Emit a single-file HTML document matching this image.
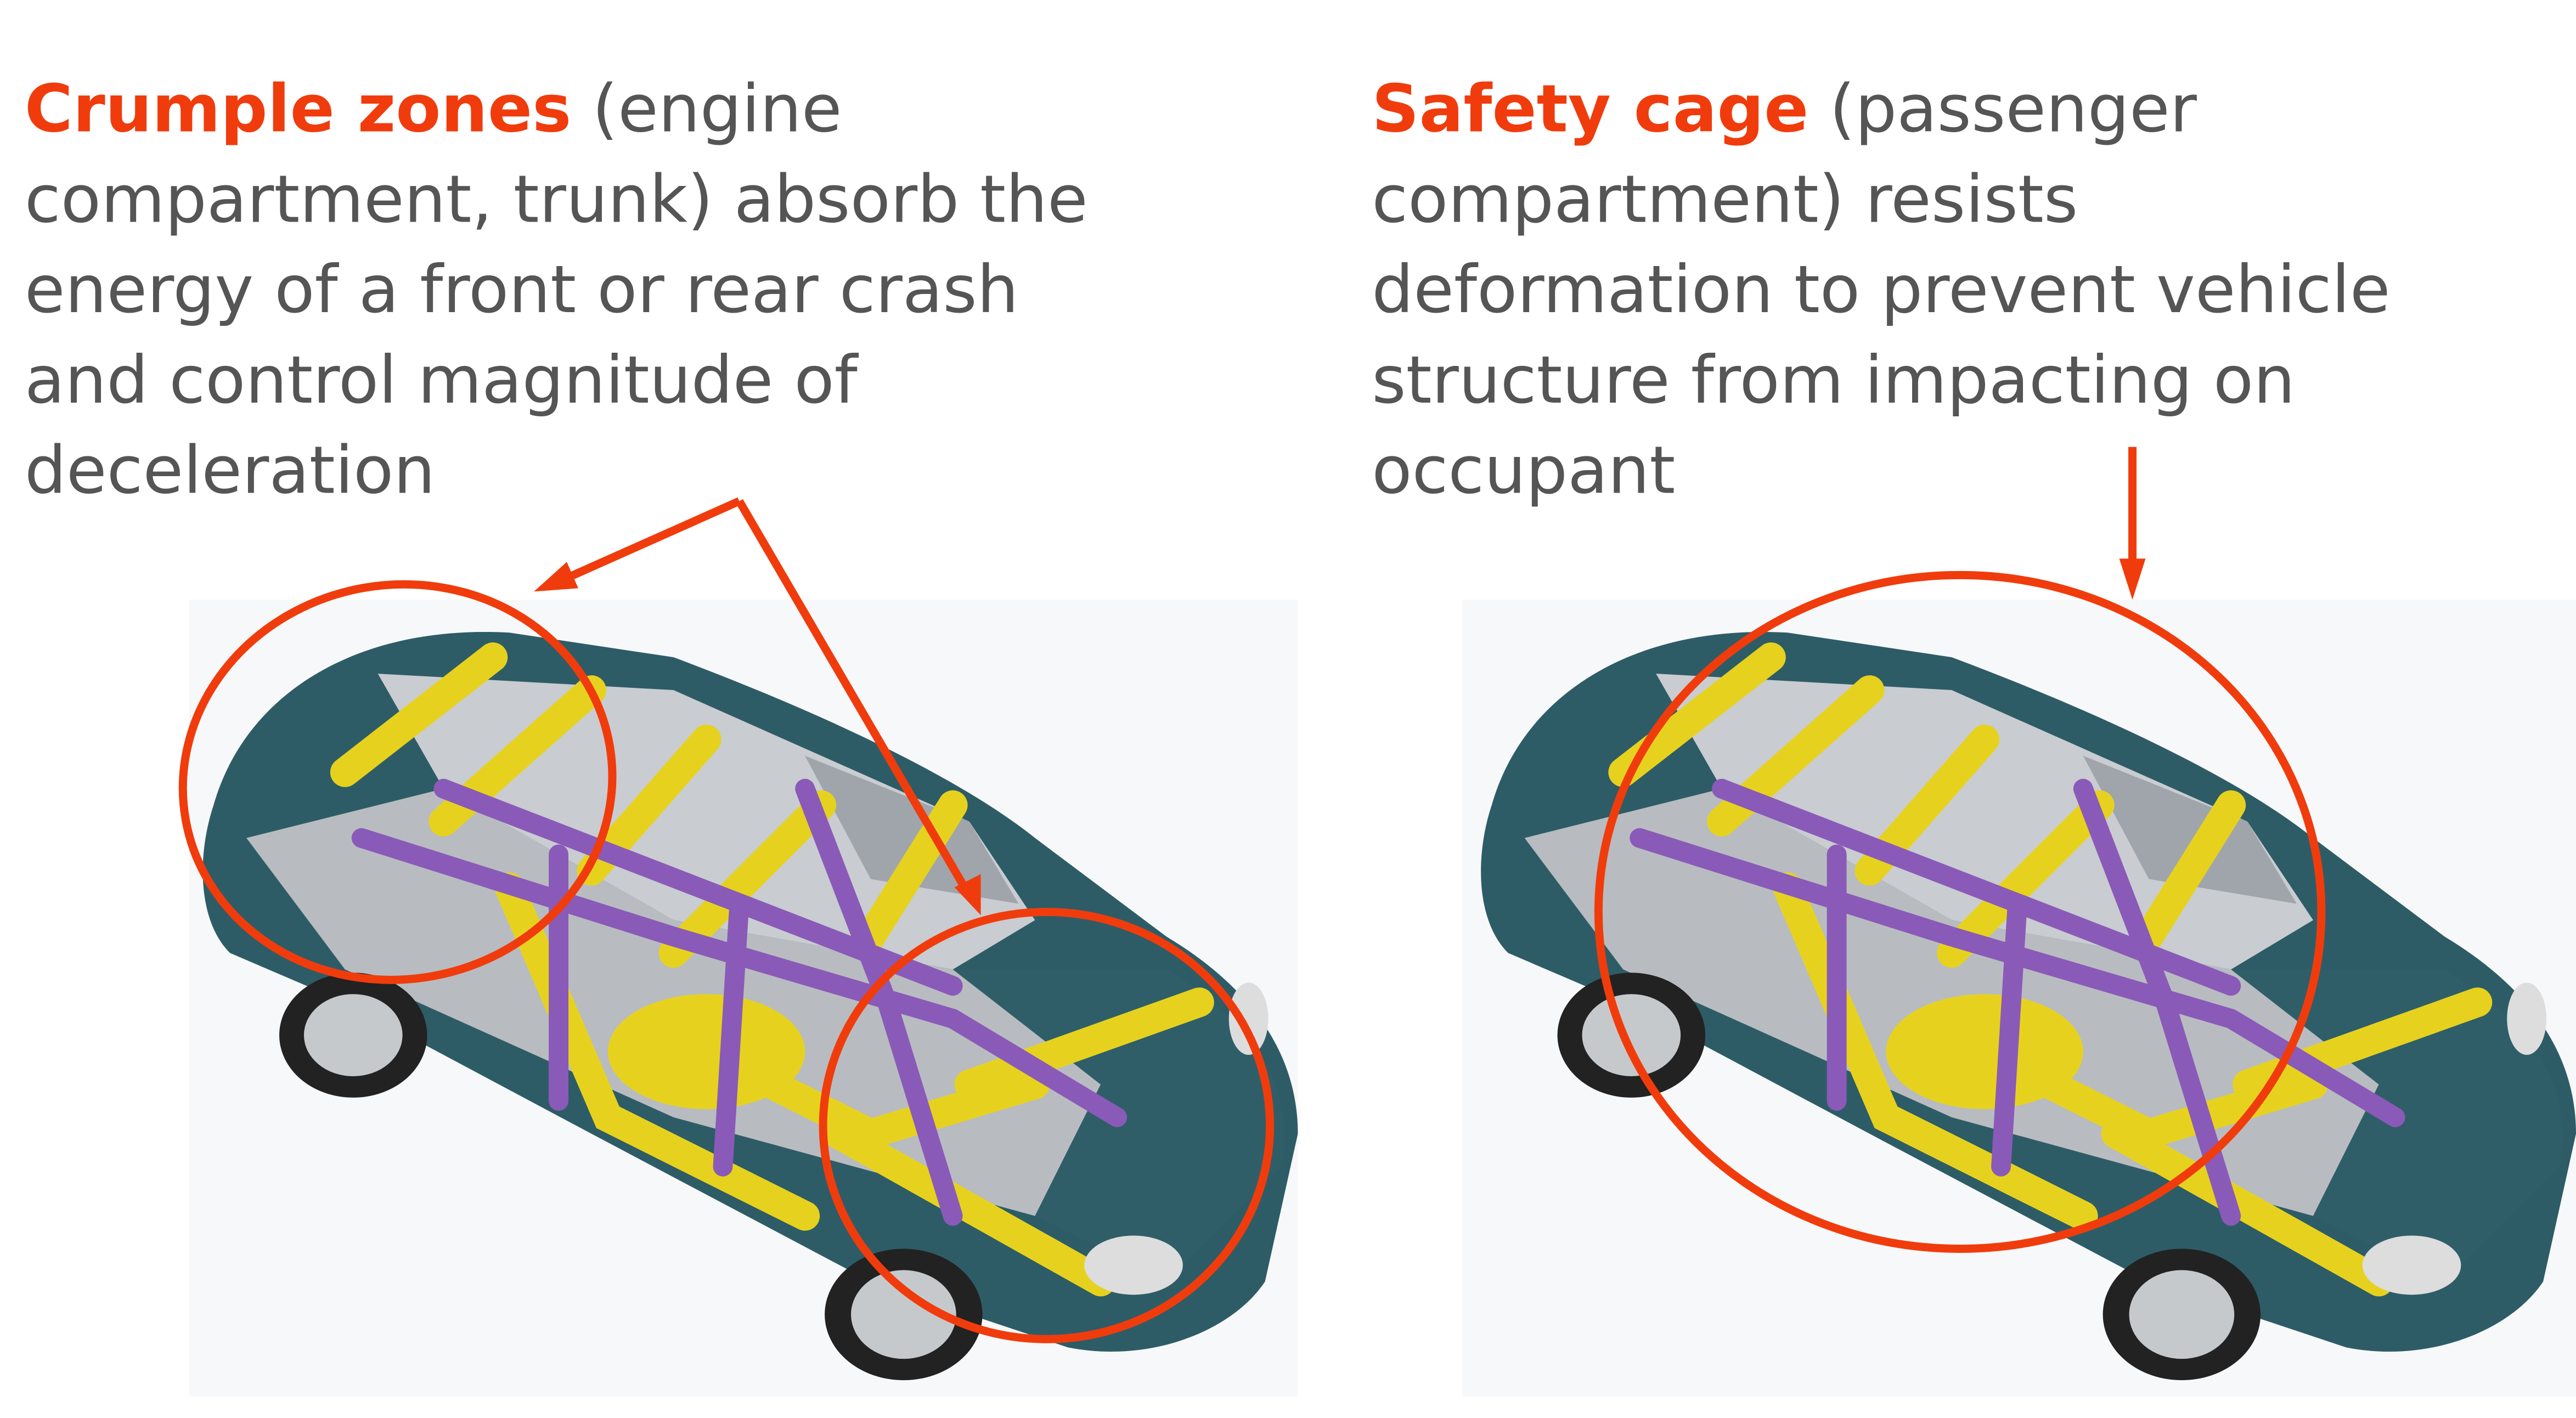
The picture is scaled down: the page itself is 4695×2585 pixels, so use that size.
<!DOCTYPE html>
<html><head><meta charset="utf-8"><style>
html,body{margin:0;padding:0;background:#fff;width:4695px;height:2585px;overflow:hidden}
svg{display:block;overflow:hidden}
text{font-family:"DejaVu Sans","Liberation Sans",sans-serif;font-size:40px;fill:#555}
.o{fill:#f03c0c;font-weight:bold}
</style></head><body>
<svg width="4695" height="2585" viewBox="0 0 1568 863" preserveAspectRatio="none" xmlns="http://www.w3.org/2000/svg">
<defs>
<g id="car">
  <path d="M20,130 C40,60 110,20 200,25 L300,40 C380,70 470,110 520,150 L600,210 C650,240 680,280 680,330 L660,420 C640,450 590,470 540,460 L420,420 L250,330 L100,250 L30,220 C10,200 10,160 20,130Z" fill="#2e5c66"/>
  <path d="M120,50 L300,60 L480,140 L520,200 L470,230 L300,200 L160,120Z" fill="#c9ccd0"/>
  <path d="M380,100 L480,140 L510,190 L420,175Z" fill="#9fa5ab"/>
  <path d="M40,150 L160,120 L300,200 L470,230 L560,300 L520,380 L300,320 L100,230Z" fill="#b8bcc0"/>
  <path d="M470,230 L600,230 C650,260 680,300 670,350 L600,420 L520,380 L560,300Z" fill="#2f5e69"/>
  <g stroke="#e6d21e" stroke-width="18" fill="none" stroke-linecap="round">
    <path d="M100,110 L190,40"/><path d="M160,140 L250,60"/><path d="M250,170 L320,90"/>
    <path d="M300,220 L390,130"/><path d="M420,210 L470,130"/>
    <path d="M200,180 L260,320 L380,380"/><path d="M300,270 L420,330 L520,300"/>
    <path d="M400,330 L560,420"/><path d="M480,300 L620,250"/>
  </g>
  <ellipse cx="320" cy="280" rx="60" ry="35" fill="#e6d21e"/>
  <g stroke="#8a5ab8" stroke-width="12" fill="none" stroke-linecap="round">
    <path d="M110,150 L300,210 L470,260 L570,320"/>
    <path d="M230,160 L230,310"/><path d="M340,190 L330,350"/>
    <path d="M160,120 L470,240"/><path d="M380,120 L430,250 L470,380"/>
  </g>
  <ellipse cx="105" cy="270" rx="45" ry="38" fill="#222"/><ellipse cx="105" cy="270" rx="30" ry="25" fill="#c6c9cc"/>
  <ellipse cx="440" cy="440" rx="48" ry="40" fill="#222"/><ellipse cx="440" cy="440" rx="32" ry="27" fill="#c6c9cc"/>
  <ellipse cx="650" cy="260" rx="12" ry="22" fill="#ddd"/>
  <ellipse cx="580" cy="410" rx="30" ry="18" fill="#ddd"/>
</g>
</defs>
<rect width="1568" height="863" fill="#fff"/>
<rect x="115" y="365" width="675" height="485" fill="#f7f8fa"/>
<rect x="890" y="365" width="678" height="485" fill="#f7f8fa"/>
<use href="#car" x="110" y="360"/>
<use href="#car" x="888" y="360"/>

<text x="15" y="80"><tspan class="o">Crumple zones</tspan> (engine</text>
<text x="15" y="135">compartment, trunk) absorb the</text>
<text x="15" y="190">energy of a front or rear crash</text>
<text x="15" y="245">and control magnitude of</text>
<text x="15" y="300">deceleration</text>

<text x="835" y="80"><tspan class="o">Safety cage</tspan> (passenger</text>
<text x="835" y="135">compartment) resists</text>
<text x="835" y="190">deformation to prevent vehicle</text>
<text x="835" y="245">structure from impacting on</text>
<text x="835" y="300">occupant</text>

<g fill="none" stroke="#f03c0c" stroke-width="5">
  <ellipse cx="242" cy="476" rx="131" ry="120" transform="rotate(-10 242 476)"/>
  <ellipse cx="637" cy="685" rx="136" ry="130"/>
  <ellipse cx="1193" cy="555" rx="220" ry="205"/>
  <path d="M450,305 L340,354"/>
  <path d="M450,305 L590,545"/>
  <path d="M1298,272 L1298,350"/>
</g>
<g fill="#f03c0c">
  <polygon points="325,360 345,342 352,358"/>
  <polygon points="597,557 581,540 597,532"/>
  <polygon points="1298,365 1290,340 1306,340"/>
</g>
</svg>
</body></html>
